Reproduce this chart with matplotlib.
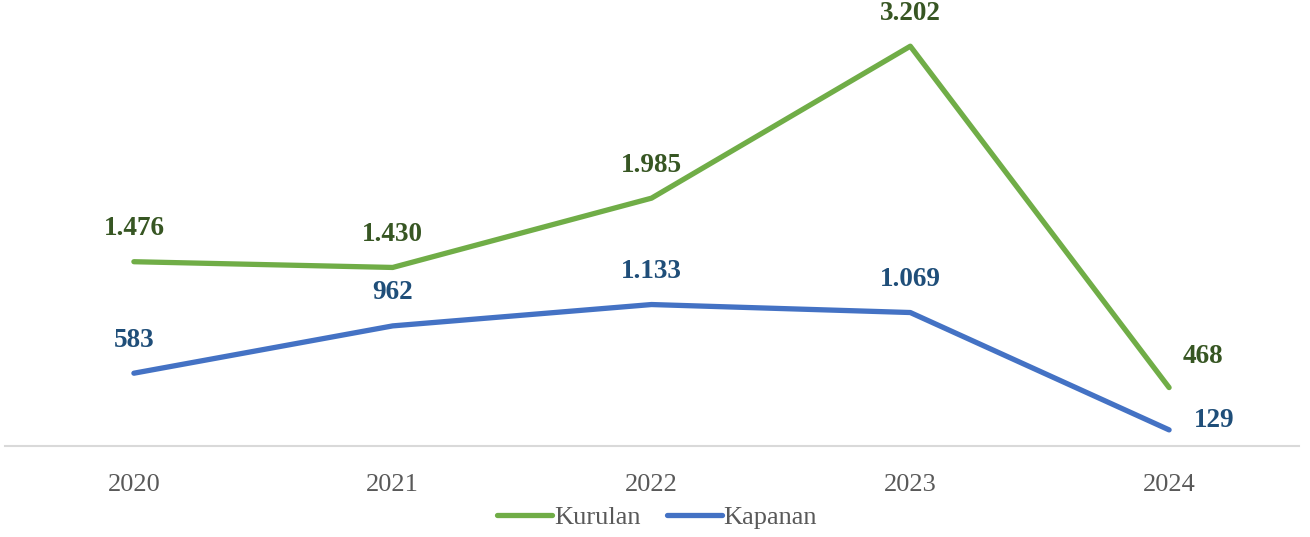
import matplotlib.pyplot as plt

years = ['2020', '2021', '2022', '2023', '2024']
kurulan = [1476, 1430, 1985, 3202, 468]
kapanan = [583, 962, 1133, 1069, 129]
kurulan_labels = ['1.476', '1.430', '1.985', '3.202', '468']
kapanan_labels = ['583', '962', '1.133', '1.069', '129']

green = '#70AD47'
blue = '#4472C4'
green_txt = '#375623'
blue_txt = '#1F4E79'

plt.rcParams['font.family'] = ['Liberation Serif', 'DejaVu Serif']

fig = plt.figure(figsize=(13.1, 5.37), dpi=100)
ax = fig.add_axes([4.5 / 1310, 1 - 446 / 537, 1294 / 1310, 437 / 537])

x = list(range(len(years)))
ax.plot(x, kurulan, color=green, lw=3.8, solid_capstyle='round', label='Kurulan')
ax.plot(x, kapanan, color=blue, lw=3.8, solid_capstyle='round', label='Kapanan')

# etiketler: son nokta sağda, diğerleri üstte
for i, (v, t) in enumerate(zip(kurulan, kurulan_labels)):
    if i == len(x) - 1:
        ax.annotate(t, (i, v), xytext=(34, 31), textcoords='offset pixels',
                    ha='center', va='center', fontsize=19.5, fontweight='bold', color=green_txt)
    else:
        ax.annotate(t, (i, v), xytext=(0, 33), textcoords='offset pixels',
                    ha='center', va='center', fontsize=19.5, fontweight='bold', color=green_txt)
for i, (v, t) in enumerate(zip(kapanan, kapanan_labels)):
    if i == len(x) - 1:
        ax.annotate(t, (i, v), xytext=(45, 9), textcoords='offset pixels',
                    ha='center', va='center', fontsize=19.5, fontweight='bold', color=blue_txt)
    else:
        ax.annotate(t, (i, v), xytext=(0, 33), textcoords='offset pixels',
                    ha='center', va='center', fontsize=19.5, fontweight='bold', color=blue_txt)

ax.set_xlim(-0.5, len(x) - 0.5)
ax.set_ylim(0, 3500)
ax.set_xticks(x)
ax.set_xticklabels(years, fontsize=19, color='#595959')
ax.tick_params(axis='x', length=0, pad=20)
ax.set_yticks([])
for s in ['top', 'right', 'left']:
    ax.spines[s].set_visible(False)
ax.spines['bottom'].set_color('#D9D9D9')
ax.spines['bottom'].set_linewidth(1.5)

leg = fig.legend(loc='center', bbox_to_anchor=(657 / 1310, 1 - 517 / 537), ncol=2,
                 frameon=False, fontsize=19, handlelength=2.1, handletextpad=0.05,
                 columnspacing=1.0, labelcolor='#595959')

fig.savefig('out.png', dpi=100)
